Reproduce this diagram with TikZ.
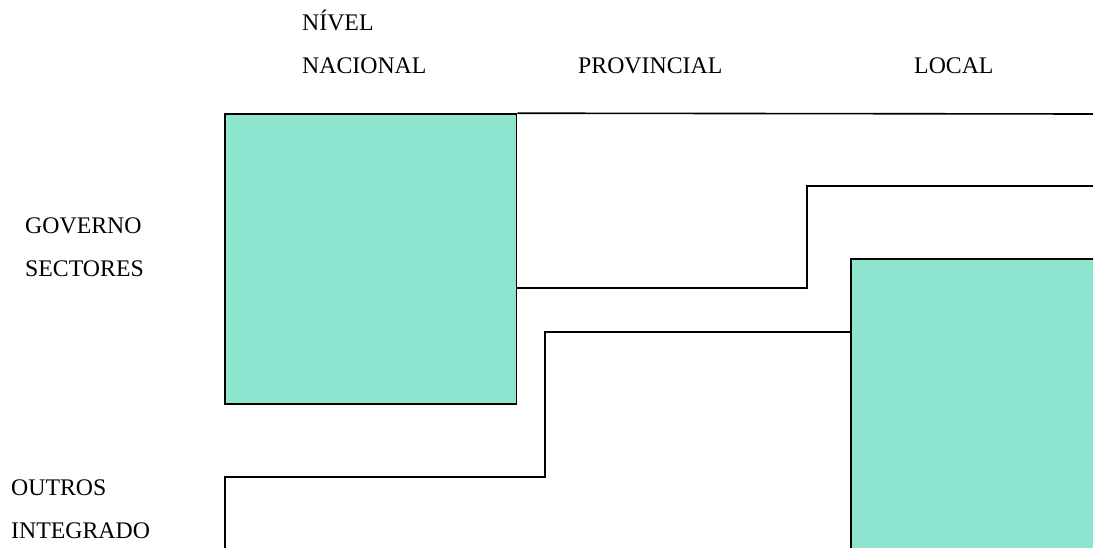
\documentclass[tikz,border=0pt]{standalone}
\usepackage{fontspec}
\setmainfont{Liberation Serif}
\usetikzlibrary{positioning}
\definecolor{areafill}{RGB}{142,229,207}

\begin{document}
\begin{tikzpicture}[x=1pt, y=-1pt,
    label/.style={anchor=base west, inner sep=0pt, font=\fontsize{23.8}{28}\selectfont},
    areabox/.style={rectangle, draw=black, fill=areafill, line width=1.6pt, inner sep=0pt},
    border/.style={draw=black, line width=1.6pt},
]
\useasboundingbox (0,0) rectangle (1093,547);
\clip (0,0) rectangle (1093,547);

%Labels
\node[label] (nivel) at (302,30) {NÍVEL};
\node[label] (nacional) at (302,73) {NACIONAL};
\node[label] (provincial) at (578,73) {PROVINCIAL};
\node[label] (local) at (914,73) {LOCAL};
\node[label] (governo) at (25,233) {GOVERNO};
\node[label] (sectores) at (25,276) {SECTORES};
\node[label] (outros) at (11,495) {OUTROS};
\node[label] (integrado) at (11,538) {INTEGRADO};

%Boxes
\node[areabox, minimum width=291.5, minimum height=290] (govbox) at (370.75,259) {};
\node[areabox, minimum width=300, minimum height=330] (localbox) at (1001,424) {};

%Corners
\coordinate (topend) at (1093,114);
\coordinate (stepA) at (807,288);
\coordinate (stepB) at (807,186);
\coordinate (stepend) at (1100,186);
\coordinate (lowA) at (545,332);
\coordinate (lowB) at (545,477);
\coordinate (lowC) at (225,477);
\coordinate (lowend) at (225,560);

%Lines
\draw[border] (govbox.north east) -- (topend);
\draw[border] (govbox.east |- stepA) -- (stepA) -- (stepB) -- (stepend);
\draw[border] (localbox.west |- lowA) -- (lowA) -- (lowB) -- (lowC) -- (lowend);
\end{tikzpicture}
\end{document}
